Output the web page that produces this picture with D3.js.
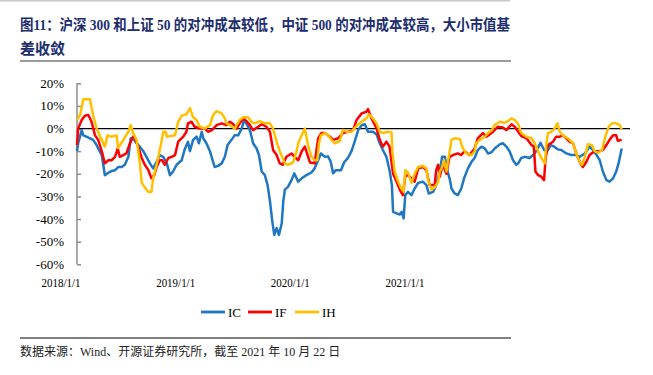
<!DOCTYPE html>
<html>
<head>
<meta charset="utf-8">
<script src="https://cdn.jsdelivr.net/npm/d3@7"></script>
<style>
  body { margin: 0; background: #fff; }
  svg { display: block; }
</style>
</head>
<body>
<div id="chart"></div>
<script>
// tick labels and legend
var xLabels = ["2018/1/1", "2019/1/1", "2020/1/1", "2021/1/1"];
var yTicks = [20, 10, 0, -10, -20, -30, -40, -50, -60];
var seriesNames = ["IC", "IF", "IH"];
var seriesColors = ["#1F77C4", "#FF0000", "#FFC000"];

// annualised hedge cost (%)
var icData = [
  ["2018-01-02", -10], ["2018-01-05", -6.5], ["2018-01-14", -0.7], ["2018-01-18", -3], ["2018-01-26", -3.6],
  ["2018-02-04", -4.3], ["2018-02-12", -5], ["2018-02-21", -7.3], ["2018-02-25", -8.8], ["2018-03-06", -11.7],
  ["2018-03-10", -16], ["2018-03-14", -20.6], ["2018-03-23", -19.5], ["2018-03-31", -18.8], ["2018-04-09", -18.4],
  ["2018-04-17", -17], ["2018-04-26", -17], ["2018-05-04", -16], ["2018-05-13", -12.5], ["2018-05-19", -4.3],
  ["2018-05-25", -4.3], ["2018-06-03", -6.5], ["2018-06-11", -8], ["2018-06-20", -10], ["2018-06-28", -12.5],
  ["2018-07-07", -15.4], ["2018-07-15", -17.6], ["2018-07-24", -14.7], ["2018-08-01", -11.7], ["2018-08-10", -12.5],
  ["2018-08-19", -15.4], ["2018-08-27", -20.6], ["2018-09-04", -19], ["2018-09-13", -16], ["2018-09-26", -14],
  ["2018-10-04", -9], ["2018-10-12", -5.8], ["2018-10-17", -10], ["2018-10-25", -5], ["2018-11-03", -3.6],
  ["2018-11-09", -6.5], ["2018-11-16", -1.4], ["2018-11-20", -4.3], ["2018-11-28", -6.5], ["2018-12-07", -10],
  ["2018-12-15", -14.7], ["2018-12-19", -17], ["2018-12-28", -16.5], ["2019-01-06", -15.4], ["2019-01-14", -12.5],
  ["2019-01-21", -7.3], ["2019-01-31", -5], ["2019-02-08", -3], ["2019-02-17", -3], ["2019-02-26", 0],
  ["2019-03-04", 3.8], ["2019-03-10", 2.3], ["2019-03-19", -0.7], ["2019-03-27", -6.5], ["2019-04-05", -8.8],
  ["2019-04-11", -11.7], ["2019-04-18", -19], ["2019-04-26", -20.6], ["2019-05-03", -25], ["2019-05-09", -32],
  ["2019-05-15", -41], ["2019-05-20", -47], ["2019-05-26", -44], ["2019-06-01", -47], ["2019-06-08", -42],
  ["2019-06-12", -32.4], ["2019-06-16", -27], ["2019-06-24", -25.8], ["2019-07-03", -22.8], ["2019-07-10", -19.8],
  ["2019-07-16", -22], ["2019-07-20", -23.5], ["2019-07-29", -22], ["2019-08-10", -20.6], ["2019-08-23", -19.4],
  ["2019-08-31", -17.6], ["2019-09-09", -14], ["2019-09-16", -11], ["2019-09-26", -12.5], ["2019-10-04", -12.3],
  ["2019-10-11", -14.7], ["2019-10-17", -19.8], ["2019-10-24", -18.4], ["2019-11-06", -18.4], ["2019-11-15", -14.7],
  ["2019-11-24", -13], ["2019-12-03", -10], ["2019-12-11", -5.8], ["2019-12-20", -0.7], ["2019-12-29", 1.5],
  ["2020-01-06", 1.9], ["2020-01-14", -1.4], ["2020-01-27", -1.4], ["2020-02-05", -2.6], ["2020-02-13", -6.5],
  ["2020-02-21", -9.5], ["2020-03-01", -12.5], ["2020-03-09", -18.4], ["2020-03-15", -25], ["2020-03-18", -36.8],
  ["2020-03-27", -37.5], ["2020-04-04", -38], ["2020-04-09", -36.8], ["2020-04-14", -39.7], ["2020-04-18", -29.4],
  ["2020-04-25", -28], ["2020-05-04", -29.4], ["2020-05-12", -26.5], ["2020-05-21", -24], ["2020-06-02", -23.5],
  ["2020-06-11", -25], ["2020-06-17", -28.7], ["2020-06-28", -28], ["2020-07-06", -25], ["2020-07-15", -19],
  ["2020-07-21", -12.5], ["2020-07-28", -12.5], ["2020-08-03", -18.4], ["2020-08-09", -22], ["2020-08-14", -26.5],
  ["2020-08-22", -28.7], ["2020-08-30", -29.4], ["2020-09-08", -26.5], ["2020-09-15", -22], ["2020-09-25", -17.6],
  ["2020-10-04", -14.7], ["2020-10-12", -13], ["2020-10-20", -9.5], ["2020-10-29", -8], ["2020-11-07", -8.8],
  ["2020-11-15", -11], ["2020-11-24", -10.5], ["2020-12-02", -8.8], ["2020-12-15", -7], ["2020-12-23", -6.5],
  ["2021-01-01", -8], ["2021-01-09", -10], ["2021-01-18", -14], ["2021-01-26", -16], ["2021-01-31", -15.4],
  ["2021-02-08", -13], ["2021-02-16", -12.5], ["2021-03-01", -13], ["2021-03-10", -11.7], ["2021-03-18", -10],
  ["2021-03-29", -6.3], ["2021-04-07", -9.5], ["2021-04-15", -10], ["2021-04-24", -7.3], ["2021-05-03", -8],
  ["2021-05-12", -9.2], ["2021-05-21", -9.5], ["2021-06-03", -11], ["2021-06-15", -11.7], ["2021-06-28", -11.7],
  ["2021-07-07", -12.5], ["2021-07-20", -11], ["2021-08-01", -8], ["2021-08-10", -9.5], ["2021-08-19", -11.7],
  ["2021-08-27", -14], ["2021-09-04", -19], ["2021-09-13", -22.8], ["2021-09-21", -23.5], ["2021-09-30", -22],
  ["2021-10-08", -19], ["2021-10-14", -15.4], ["2021-10-22", -8.8]
];

var ifData = [
  ["2018-01-02", -7.3], ["2018-01-05", 0], ["2018-01-14", 3.8], ["2018-01-22", 5.7], ["2018-01-31", 6],
  ["2018-02-08", 3], ["2018-02-17", -3], ["2018-02-25", -5], ["2018-03-06", -10], ["2018-03-14", -15.4],
  ["2018-03-23", -14], ["2018-03-31", -14], ["2018-04-09", -12.5], ["2018-04-16", -8.8], ["2018-04-21", -12.5],
  ["2018-04-30", -11.7], ["2018-05-08", -11], ["2018-05-17", -6.5], ["2018-05-25", -3.6], ["2018-05-30", -4.3],
  ["2018-06-07", -8], ["2018-06-16", -13], ["2018-06-24", -16], ["2018-07-03", -18.4], ["2018-07-11", -22],
  ["2018-07-18", -20.6], ["2018-07-24", -17], ["2018-08-01", -14], ["2018-08-07", -14], ["2018-08-14", -16],
  ["2018-08-23", -13], ["2018-08-31", -12.5], ["2018-09-09", -11.7], ["2018-09-17", -5.8], ["2018-09-30", -3.6],
  ["2018-10-08", -1.4], ["2018-10-12", 2.3], ["2018-10-21", 3], ["2018-10-29", 0.8], ["2018-11-11", 0],
  ["2018-11-24", 0], ["2018-12-02", -1.4], ["2018-12-12", -0.7], ["2018-12-24", 1.5], ["2019-01-06", 2.3],
  ["2019-01-18", 1.5], ["2019-01-27", 3], ["2019-02-04", 2], ["2019-02-13", 0], ["2019-02-21", 2.3],
  ["2019-03-02", 4.5], ["2019-03-10", 3.3], ["2019-03-19", 1.5], ["2019-03-27", -0.7], ["2019-04-09", 0.8],
  ["2019-04-18", 1.9], ["2019-04-30", 0.8], ["2019-05-09", -1.4], ["2019-05-17", -9.5], ["2019-05-26", -11.7],
  ["2019-06-03", -15.4], ["2019-06-11", -16], ["2019-06-20", -12.5], ["2019-07-03", -11], ["2019-07-11", -12.5],
  ["2019-07-20", -14], ["2019-07-29", -10], ["2019-08-06", -8], ["2019-08-13", -11.7], ["2019-08-19", -15],
  ["2019-08-31", -15.4], ["2019-09-09", -4.3], ["2019-09-17", -2], ["2019-09-26", -2], ["2019-10-09", -3.6],
  ["2019-10-17", -5], ["2019-10-30", -4.3], ["2019-11-11", -2], ["2019-11-24", -1.4], ["2019-12-07", -0.7],
  ["2019-12-16", 3.8], ["2019-12-29", 6.7], ["2020-01-10", 7.4], ["2020-01-14", 8.6], ["2020-01-23", 4.5],
  ["2020-02-05", 0], ["2020-02-13", -5], ["2020-02-21", -8], ["2020-03-01", -5.8], ["2020-03-09", -8],
  ["2020-03-18", -20], ["2020-03-27", -23.5], ["2020-04-04", -27], ["2020-04-12", -29.4], ["2020-04-18", -21],
  ["2020-04-25", -20.6], ["2020-05-04", -22], ["2020-05-12", -23.5], ["2020-05-21", -17.6], ["2020-06-02", -17],
  ["2020-06-11", -18.4], ["2020-06-19", -25], ["2020-07-02", -25], ["2020-07-06", -18.4], ["2020-07-11", -16],
  ["2020-07-15", -21.3], ["2020-07-23", -16], ["2020-08-01", -20], ["2020-08-09", -12.5], ["2020-08-18", -11.7],
  ["2020-08-30", -11], ["2020-09-08", -11.7], ["2020-09-16", -10], ["2020-09-29", -11.7], ["2020-10-12", -8.8],
  ["2020-10-20", -4.3], ["2020-11-02", -2], ["2020-11-11", -3.6], ["2020-11-19", -2.6], ["2020-11-28", -1.4],
  ["2020-12-10", 0.8], ["2020-12-23", 0.5], ["2021-01-01", -0.7], ["2021-01-14", 1.9], ["2021-01-22", 0.8],
  ["2021-01-31", -1.4], ["2021-02-08", -3.3], ["2021-02-21", -4.3], ["2021-03-06", -7.3], ["2021-03-12", -8],
  ["2021-03-16", -19], ["2021-03-23", -20.6], ["2021-03-31", -21.3], ["2021-04-07", -22.8], ["2021-04-11", -13],
  ["2021-04-17", -7.3], ["2021-04-30", -5.8], ["2021-05-08", -3.6], ["2021-05-17", -3.6], ["2021-05-25", -3],
  ["2021-06-03", -4.3], ["2021-06-11", -5.8], ["2021-06-20", -6.5], ["2021-06-28", -11], ["2021-07-07", -14.7],
  ["2021-07-15", -17], ["2021-07-24", -14.7], ["2021-08-01", -11.7], ["2021-08-14", -10], ["2021-08-27", -10],
  ["2021-09-04", -9.5], ["2021-09-13", -7.3], ["2021-09-21", -5], ["2021-09-30", -3], ["2021-10-08", -3],
  ["2021-10-12", -5.4], ["2021-10-22", -5]
];

var ihData = [
  ["2018-01-02", 3.8], ["2018-01-10", 6], ["2018-01-18", 13], ["2018-02-04", 13], ["2018-02-12", 6],
  ["2018-02-21", 0], ["2018-03-06", -5], ["2018-03-14", -8], ["2018-03-21", -3], ["2018-03-31", -3.6],
  ["2018-04-13", -3], ["2018-04-17", -8.6], ["2018-04-30", -5], ["2018-05-13", -1.4], ["2018-05-19", 1.5],
  ["2018-05-25", -2], ["2018-06-03", -5], ["2018-06-11", -14.7], ["2018-06-16", -24], ["2018-06-24", -26],
  ["2018-07-03", -28], ["2018-07-11", -28], ["2018-07-15", -22], ["2018-07-24", -16], ["2018-08-04", -7],
  ["2018-08-10", -1.4], ["2018-08-16", -1.4], ["2018-08-19", -3.6], ["2018-09-09", -3], ["2018-09-17", 3],
  ["2018-09-26", 5.7], ["2018-10-08", 6.3], ["2018-10-17", 9], ["2018-10-25", 5], ["2018-11-03", 3.8],
  ["2018-11-11", 0.8], ["2018-11-24", 0], ["2018-12-07", 1.5], ["2018-12-15", 6], ["2018-12-24", 7.7],
  ["2019-01-06", 6.7], ["2019-01-14", 4.5], ["2019-01-18", 2.4], ["2019-01-31", 1], ["2019-02-08", 0],
  ["2019-02-21", 3.8], ["2019-03-02", 5], ["2019-03-14", 5], ["2019-03-23", 3], ["2019-03-31", 2.3],
  ["2019-04-13", 3.3], ["2019-04-26", 2.3], ["2019-05-09", 2.3], ["2019-05-17", 0], ["2019-05-26", -5.8],
  ["2019-06-03", -10], ["2019-06-16", -15.4], ["2019-06-24", -16], ["2019-07-07", -15], ["2019-07-16", -10],
  ["2019-07-20", -6.5], ["2019-07-29", -3], ["2019-08-06", 0], ["2019-08-14", -7.3], ["2019-08-23", -12.5],
  ["2019-08-31", -14], ["2019-09-07", -14], ["2019-09-11", -6.5], ["2019-09-16", -3], ["2019-09-26", -2],
  ["2019-10-04", -3], ["2019-10-13", -5], ["2019-10-21", -6.5], ["2019-11-03", -5.5], ["2019-11-11", -0.6],
  ["2019-11-20", -1.4], ["2019-12-03", -1.4], ["2019-12-16", 1.2], ["2019-12-29", 3], ["2020-01-10", 4.5],
  ["2020-01-16", 6.3], ["2020-01-23", 5.2], ["2020-02-05", 2.3], ["2020-02-13", -1.4], ["2020-02-21", -2],
  ["2020-03-05", -1.4], ["2020-03-14", -1.7], ["2020-03-16", -10], ["2020-03-22", -19], ["2020-03-31", -23.5],
  ["2020-04-08", -26.5], ["2020-04-14", -28], ["2020-04-18", -18.4], ["2020-04-25", -19.4], ["2020-05-04", -24],
  ["2020-05-12", -20], ["2020-05-21", -17], ["2020-06-02", -16.5], ["2020-06-11", -17.6], ["2020-06-15", -22.8],
  ["2020-06-24", -27], ["2020-07-02", -26], ["2020-07-11", -23.5], ["2020-07-15", -19], ["2020-07-20", -17.6],
  ["2020-07-26", -14], ["2020-08-01", -19], ["2020-08-07", -12.5], ["2020-08-14", -5], ["2020-08-22", -4.3],
  ["2020-09-04", -4.6], ["2020-09-12", -8.8], ["2020-09-21", -11], ["2020-10-04", -11.7], ["2020-10-12", -10],
  ["2020-10-16", -6.5], ["2020-10-25", -5], ["2020-11-07", -3.6], ["2020-11-15", -2], ["2020-11-25", -0.7],
  ["2020-12-02", 1.5], ["2020-12-15", 3], ["2020-12-28", 2.6], ["2021-01-05", 3.3], ["2021-01-14", 4.5],
  ["2021-01-22", 3.8], ["2021-01-31", 2], ["2021-02-08", -2], ["2021-02-21", -3.6], ["2021-03-06", -4.3],
  ["2021-03-14", -6.5], ["2021-03-23", -10], ["2021-03-31", -13], ["2021-04-09", -15.4], ["2021-04-13", -6.5],
  ["2021-04-17", -2], ["2021-04-26", -1.4], ["2021-05-04", 0], ["2021-05-11", 2.3], ["2021-05-17", -1.4],
  ["2021-05-25", -3], ["2021-06-07", -4.3], ["2021-06-20", -6.5], ["2021-06-28", -11], ["2021-07-07", -14.7],
  ["2021-07-13", -16], ["2021-07-20", -12.5], ["2021-07-28", -6.9], ["2021-08-07", -7.3], ["2021-08-14", -10],
  ["2021-08-23", -10.7], ["2021-09-02", -9.5], ["2021-09-10", -3.6], ["2021-09-19", 0.8], ["2021-09-27", 2.3],
  ["2021-10-08", 2.3], ["2021-10-17", 1.5], ["2021-10-22", -0.3]
];

var width = 653, height = 375;
var parseDate = d3.timeParse("%Y-%m-%d");
var allSeries = [icData, ifData, ihData];

var svg = d3.select("#chart").append("svg")
    .attr("width", width)
    .attr("height", height);

// top rule + title
svg.append("line")
    .attr("x1", 0).attr("x2", 510).attr("y1", 0.75).attr("y2", 0.75)
    .style("stroke", "#c8c8c8").style("stroke-width", 1.5);

var titleFont = "'Liberation Serif', 'Noto Sans CJK SC', serif";
svg.append("text")
    .attr("x", 20).attr("y", 30)
    .attr("textLength", 490).attr("lengthAdjust", "spacingAndGlyphs")
    .style("font-family", titleFont).style("font-size", "15px").style("font-weight", "bold")
    .style("fill", "#1c2d6e")
    .text("图11：沪深 300 和上证 50 的对冲成本较低，中证 500 的对冲成本较高，大小市值基");
svg.append("text")
    .attr("x", 20).attr("y", 54)
    .style("font-family", titleFont).style("font-size", "15px").style("font-weight", "bold")
    .style("fill", "#1c2d6e")
    .text("差收敛");
svg.append("line")
    .attr("x1", 20).attr("x2", 511).attr("y1", 61).attr("y2", 61)
    .style("stroke", "#7a7a7a").style("stroke-width", 1.5);

// scales
var x = d3.scaleTime()
    .domain([parseDate("2018-01-02"), parseDate("2021-10-22")])
    .range([77, 621.7]);
var y = d3.scaleLinear()
    .domain([-60, 20])
    .range([264.3, 83.3]);
var xLab = d3.scalePoint()
    .domain(xLabels)
    .range([61, 405]);
var plotRight = 630;

// y axis (ticks inside)
var yAxis = d3.axisRight(y)
    .tickValues(yTicks)
    .tickSize(4)
    .tickFormat("");
var gy = svg.append("g")
    .attr("transform", "translate(77,0)")
    .call(yAxis);
gy.select(".domain").style("stroke", "#8c8c8c").style("stroke-width", 1.5)
    .attr("d", "M0," + y(20) + "V" + y(-60));
gy.selectAll(".tick line").style("stroke", "#8c8c8c").style("stroke-width", 1.5);

svg.selectAll(".yLabel")
    .data(yTicks)
    .enter().append("text")
    .attr("class", "yLabel")
    .attr("x", 64)
    .attr("y", d => y(d))
    .attr("dy", "0.35em")
    .attr("text-anchor", "end")
    .style("font-family", "'Liberation Serif', serif")
    .style("font-size", "13px")
    .style("fill", "#000")
    .text(d => d + "%");

// zero line
svg.append("line")
    .attr("x1", 77).attr("x2", plotRight)
    .attr("y1", y(0)).attr("y2", y(0))
    .style("stroke", "#000").style("stroke-width", 1.2);

// x labels
svg.selectAll(".xLabel")
    .data(xLabels)
    .enter().append("text")
    .attr("class", "xLabel")
    .attr("x", d => xLab(d))
    .attr("y", 287)
    .attr("text-anchor", "middle")
    .attr("textLength", 39).attr("lengthAdjust", "spacingAndGlyphs")
    .style("font-family", "'Liberation Serif', serif")
    .style("font-size", "13px")
    .text(d => d);

// lines
var line = d3.line()
    .x(d => x(parseDate(d[0])))
    .y(d => y(d[1]));

svg.selectAll(".series")
    .data(allSeries)
    .enter().append("path")
    .attr("class", "series")
    .attr("d", d => line(d))
    .style("fill", "none")
    .style("stroke", (d, i) => seriesColors[i])
    .style("stroke-width", 2.5)
    .style("stroke-linejoin", "round");

// legend
var legendX = d3.scalePoint().domain(seriesNames).range([201, 295]);
var legend = svg.selectAll(".legendItem")
    .data(seriesNames)
    .enter().append("g")
    .attr("class", "legendItem")
    .attr("transform", d => "translate(" + legendX(d) + ",312)");
legend.append("line")
    .attr("x1", 0).attr("x2", 24)
    .style("stroke", (d, i) => seriesColors[i])
    .style("stroke-width", 2.8);
legend.append("text")
    .attr("x", 27).attr("y", 4.5)
    .style("font-family", "'Liberation Serif', serif")
    .style("font-size", "13px")
    .text(d => d);

// source
svg.append("line")
    .attr("x1", 20).attr("x2", 511).attr("y1", 338).attr("y2", 338)
    .style("stroke", "#555").style("stroke-width", 1.5);
svg.append("text")
    .attr("x", 20).attr("y", 356)
    .style("font-family", "'Liberation Serif', 'Noto Sans CJK SC', serif")
    .style("font-size", "12px")
    .style("fill", "#222")
    .text("数据来源：Wind、开源证券研究所，截至 2021 年 10 月 22 日");
</script>
</body>
</html>
